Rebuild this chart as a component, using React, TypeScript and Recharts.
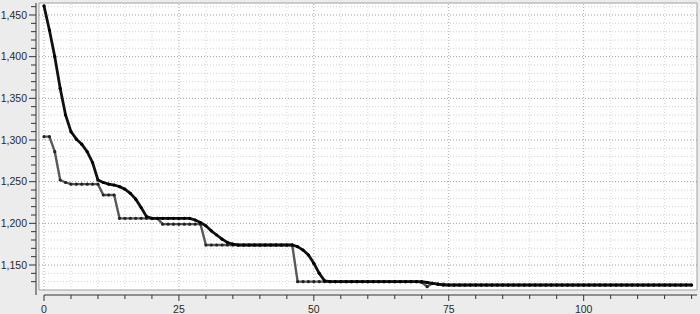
import React from 'react';
import { LineChart, Line, XAxis, YAxis, ReferenceArea, ReferenceLine } from 'recharts';

// best value per step (step = array index)
const blackSeries = [
  1461, 1432, 1400, 1362, 1330, 1310, 1301, 1295, 1286, 1273,
  1252, 1249, 1247, 1246, 1244, 1241, 1236, 1229, 1219, 1208,
  1206, 1206, 1206, 1206, 1206, 1206, 1206, 1206, 1204, 1201,
  1197, 1191, 1186, 1181, 1177, 1175, 1174, 1174, 1174, 1174,
  1174, 1174, 1174, 1174, 1174, 1174, 1174, 1172, 1168, 1162,
  1152, 1140, 1131, 1130, 1130, 1130, 1130, 1130, 1130, 1130,
  1130, 1130, 1130, 1130, 1130, 1130, 1130, 1130, 1130, 1130,
  1130, 1129, 1128, 1127, 1126, 1126, 1126, 1126, 1126, 1126,
  1126, 1126, 1126, 1126, 1126, 1126, 1126, 1126, 1126, 1126,
  1126, 1126, 1126, 1126, 1126, 1126, 1126, 1126, 1126, 1126,
  1126, 1126, 1126, 1126, 1126, 1126, 1126, 1126, 1126, 1126,
  1126, 1126, 1126, 1126, 1126, 1126, 1126, 1126, 1126, 1126,
  1126,
];

const graySeries = [
  1304, 1304, 1286, 1252, 1249, 1247, 1247, 1247, 1247, 1247,
  1247, 1234, 1234, 1234, 1206, 1206, 1206, 1206, 1206, 1206,
  1206, 1206, 1199, 1199, 1199, 1199, 1199, 1199, 1199, 1199,
  1174, 1174, 1174, 1174, 1174, 1174, 1174, 1174, 1174, 1174,
  1174, 1174, 1174, 1174, 1174, 1174, 1174, 1130, 1130, 1130,
  1130, 1130, 1130, 1130, 1130, 1130, 1130, 1130, 1130, 1130,
  1130, 1130, 1130, 1130, 1130, 1130, 1130, 1130, 1130, 1130,
  1129, 1124, 1128, 1127, 1127, 1126, 1126, 1126, 1126, 1126,
  1126, 1126, 1126, 1126, 1126, 1126, 1126, 1126, 1126, 1126,
  1126, 1126, 1126, 1126, 1126, 1126, 1126, 1126, 1126, 1126,
  1126, 1126, 1126, 1126, 1126, 1126, 1126, 1126, 1126, 1126,
  1126, 1126, 1126, 1126, 1126, 1126, 1126, 1126, 1126, 1126,
  1126,
];

const xTicks = [0, 5, 10, 15, 20, 25, 30, 35, 40, 45, 50, 55, 60, 65, 70, 75, 80, 85, 90, 95, 100, 105, 110, 115, 120];
const xLabels = [0, 25, 50, 75, 100];
const yTicks = [
  1130, 1140, 1150, 1160, 1170, 1180, 1190, 1200, 1210, 1220, 1230, 1240,
  1250, 1260, 1270, 1280, 1290, 1300, 1310, 1320, 1330, 1340, 1350, 1360,
  1370, 1380, 1390, 1400, 1410, 1420, 1430, 1440, 1450, 1460,
];
const yLabels = [1150, 1200, 1250, 1300, 1350, 1400, 1450];

const X_MIN = -1.48;
const X_MAX = 121;
const Y_MIN = 1114;
const Y_MAX = 1464.4;
// white plot frame sits a little inside the axes
const FRAME_X = -0.93;
const FRAME_Y = 1120;

const data = blackSeries.map((v, i) => ({ step: i, black: v, gray: graySeries[i] }));

const FONT = '"Liberation Sans", Arial, sans-serif';

const YTick = (props: any) => {
  const { x, y, payload } = props;
  const major = yLabels.includes(payload.value);
  return (
    <g>
      <line x1={x - (major ? 7 : 5)} x2={x} y1={y} y2={y} stroke="#333" />
      {major && (
        <text x={x - 9} y={y + 3.8} textAnchor="end" fontSize={10.5} fill="#2a2a2a" fontFamily={FONT}>
          {payload.value.toLocaleString('en-US')}
        </text>
      )}
    </g>
  );
};

const XTick = (props: any) => {
  const { x, y, payload } = props;
  const major = xLabels.includes(payload.value);
  return (
    <g>
      <line x1={x} x2={x} y1={y} y2={y + (major ? 6 : 4)} stroke="#333" />
      {major && (
        <text x={x} y={y + 18} textAnchor="middle" fontSize={10.5} fill="#2a2a2a" fontFamily={FONT}>
          {payload.value}
        </text>
      )}
    </g>
  );
};

const App: React.FC = () => {
  return (
    <div style={{ position: 'absolute', left: 0, top: 0, width: 700, height: 314, background: '#ececec' }}>
      <LineChart width={700} height={314} data={data} margin={{ top: 3, right: 3, left: 0, bottom: 0 }}>
        <XAxis
          dataKey="step"
          type="number"
          domain={[X_MIN, X_MAX]}
          allowDataOverflow
          ticks={xTicks}
          interval={0}
          tickSize={0}
          tickMargin={0}
          tickLine={false}
          axisLine={false}
          tick={<XTick />}
          height={19}
        />
        <YAxis
          type="number"
          domain={[Y_MIN, Y_MAX]}
          allowDataOverflow
          ticks={yTicks}
          interval={0}
          tickSize={0}
          tickMargin={0}
          tickLine={false}
          axisLine={{ stroke: '#333' }}
          tick={<YTick />}
          width={36}
        />
        <ReferenceArea
          x1={FRAME_X}
          x2={X_MAX}
          y1={FRAME_Y}
          y2={Y_MAX}
          fill="#fff"
          fillOpacity={1}
          stroke="#a0a0a0"
          ifOverflow="visible"
        />
        {xTicks.map((t) => (
          <ReferenceLine
            key={`vx${t}`}
            segment={[{ x: t, y: FRAME_Y }, { x: t, y: Y_MAX }]}
            stroke={xLabels.includes(t) ? '#aaa' : '#d8d8d8'}
            strokeDasharray="1 2"
            ifOverflow="visible"
          />
        ))}
        {yTicks.map((t) => (
          <ReferenceLine
            key={`hy${t}`}
            segment={[{ x: FRAME_X, y: t }, { x: X_MAX, y: t }]}
            stroke={yLabels.includes(t) ? '#9a9a9a' : '#cfcfcf'}
            strokeDasharray="1 2"
            ifOverflow="visible"
          />
        ))}
        <ReferenceLine
          segment={[{ x: 0, y: Y_MIN }, { x: X_MAX, y: Y_MIN }]}
          stroke="#333"
          ifOverflow="visible"
        />
        <Line
          type="linear"
          dataKey="gray"
          stroke="#595959"
          strokeWidth={2.4}
          dot={{ r: 1.6, fill: '#222', stroke: 'none' }}
          isAnimationActive={false}
        />
        <Line
          type="linear"
          dataKey="black"
          stroke="#111"
          strokeWidth={2.8}
          dot={{ r: 1.6, fill: '#000', stroke: 'none' }}
          isAnimationActive={false}
        />
      </LineChart>
    </div>
  );
};

export default App;
